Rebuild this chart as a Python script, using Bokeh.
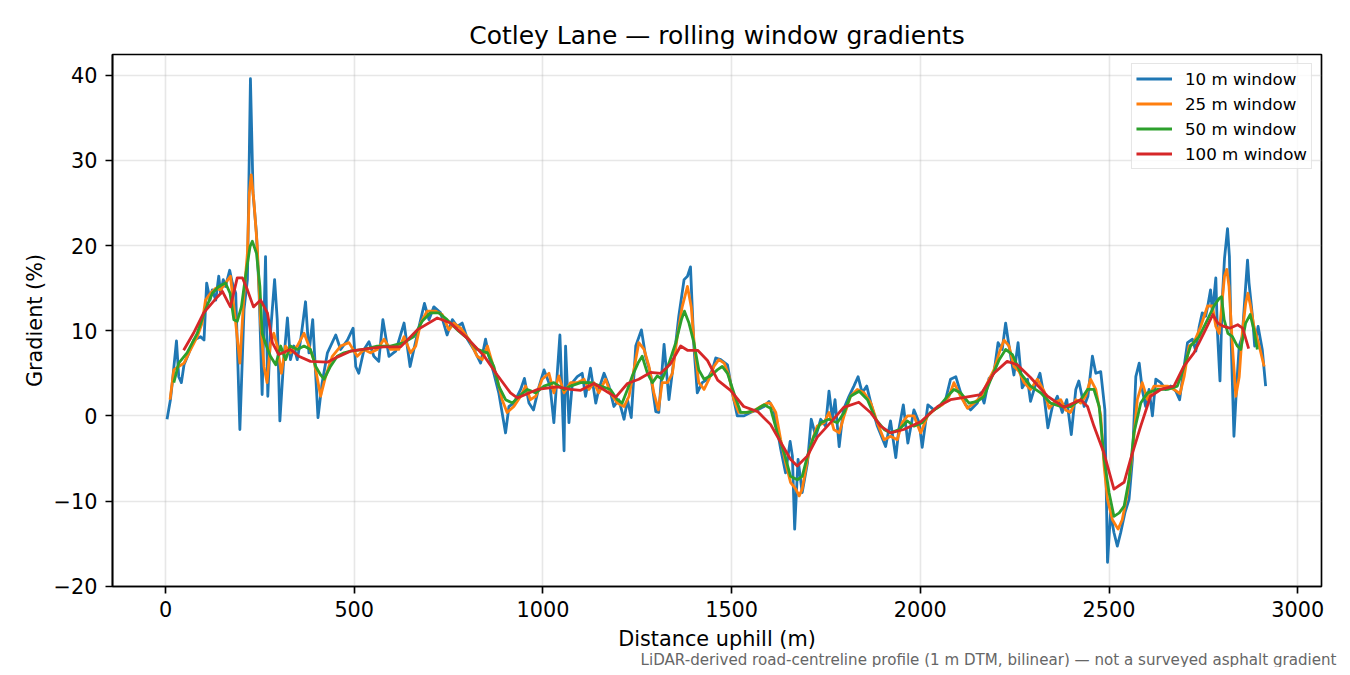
from bokeh.plotting import figure
from bokeh.models import Range1d, FixedTicker, CustomJSTickFormatter, Title
from bokeh.embed import file_html
from bokeh.resources import INLINE

# distance uphill (m) and gradient (%), one pair of arrays per window
dist_10 = [4, 13, 18, 29, 35, 42, 49, 62, 75, 93, 102, 109, 118, 124, 133, 141, 146, 153, 159,
           170, 177, 186, 197, 208, 217, 225, 232, 241, 248, 256, 265, 271, 278, 289, 296, 303,
           312, 323, 331, 340, 349, 358, 371, 380, 390, 404, 415, 429, 451, 464, 482, 497, 504,
           512, 526, 539, 552, 565, 576, 586, 592, 610, 632, 648, 658, 676, 686, 698, 711, 729,
           746, 760, 773, 786, 800, 817, 835, 848, 857, 870, 883, 901, 910, 923, 941, 951, 963,
           975, 990, 1003, 1019, 1029, 1045, 1056, 1060, 1069, 1078, 1091, 1104, 1113, 1126,
           1140, 1148, 1162, 1175, 1188, 1201, 1215, 1224, 1234, 1246, 1261, 1272, 1285, 1299,
           1307, 1321, 1334, 1347, 1360, 1374, 1383, 1391, 1400, 1409, 1422, 1436, 1449, 1458,
           1471, 1489, 1502, 1515, 1533, 1550, 1568, 1586, 1599, 1612, 1630, 1643, 1655, 1661,
           1667, 1676, 1687, 1701, 1711, 1723, 1736, 1749, 1758, 1767, 1774, 1785, 1796, 1811,
           1824, 1835, 1846, 1858, 1869, 1886, 1908, 1921, 1935, 1943, 1955, 1967, 1983, 1997,
           2005, 2020, 2036, 2054, 2067, 2080, 2094, 2107, 2120, 2133, 2151, 2160, 2169, 2182,
           2195, 2206, 2217, 2226, 2235, 2248, 2259, 2270, 2284, 2292, 2304, 2317, 2328, 2338,
           2350, 2363, 2376, 2388, 2400, 2412, 2420, 2434, 2444, 2456, 2465, 2478, 2489, 2496,
           2504, 2513, 2522, 2531, 2542, 2553, 2562, 2571, 2580, 2588, 2597, 2606, 2615, 2624,
           2637, 2650, 2663, 2677, 2687, 2699, 2708, 2721, 2730, 2739, 2747, 2756, 2762, 2769,
           2774, 2783, 2787, 2794, 2800, 2806, 2814, 2819, 2824, 2831, 2838, 2845, 2853, 2862,
           2867, 2871, 2880, 2886, 2895, 2906, 2915]
grad_10 = [-0.4, 1.9, 3.9, 8.8, 4.6, 3.9, 6.0, 7.4, 8.9, 9.3, 8.9, 15.6, 13.6, 14.8, 13.6, 16.4,
           14.4, 16.0, 15.2, 17.1, 15.6, 14.4, -1.6, 12.5, 16.0, 39.6, 26.1, 21.4, 14.4, 2.5, 18.7,
           2.3, 9.7, 16.0, 11.3, -0.6, 5.8, 11.5, 6.6, 8.2, 6.6, 8.9, 13.4, 7.4, 11.3, -0.2, 3.9,
           7.4, 9.5, 7.8, 8.9, 10.3, 5.8, 5.0, 7.8, 8.7, 7.0, 6.4, 11.3, 8.6, 7.0, 7.6, 10.9, 5.8,
           7.8, 11.3, 13.2, 11.3, 12.8, 12.1, 9.5, 11.3, 10.5, 10.9, 9.0, 7.8, 6.2, 9.0, 7.0, 5.0,
           2.7, -2.0, 1.1, 1.5, 3.1, 4.4, 1.5, 0.7, 3.5, 5.4, 3.5, -0.8, 9.5, -4.1, 8.2, -0.8, 3.9,
           4.6, 5.0, 2.3, 5.6, 1.5, 3.1, 5.0, 3.5, 1.1, 1.9, -0.4, 1.9, -0.2, 8.2, 10.1, 7.0, 5.0,
           0.5, 0.4, 8.4, 1.9, 6.6, 11.7, 16.0, 16.4, 17.5, 8.2, 2.7, 3.9, 4.3, 5.4, 6.8, 6.6, 6.0,
           2.7, 0.0, 0.0, 0.4, 0.7, 1.1, 1.7, 0.7, -3.9, -6.7, -3.0, -4.7, -13.3, -5.1, -9.0, -5.5,
           -0.4, -2.4, -0.4, -1.2, 2.9, -0.4, 1.9, -3.6, 0.7, 2.3, 3.5, 4.6, 2.7, 3.5, 1.5, -1.2,
           -3.6, -0.6, -4.9, -1.6, 1.3, -3.2, 0.7, -0.8, -3.7, 1.3, 0.7, 1.3, 1.9, 4.3, 4.6, 2.7,
           1.3, 0.7, 1.5, 2.7, 1.5, 4.4, 5.0, 8.6, 7.8, 10.9, 8.2, 4.8, 8.6, 3.3, 4.3, 1.7, 3.5,
           5.0, 2.3, -1.4, 1.1, 2.3, 0.4, 1.9, -2.2, 3.1, 4.1, 1.1, 2.3, 7.0, 5.0, 5.2, 0.7, -17.2,
           -11.4, -13.7, -15.3, -13.7, -11.4, -9.8, -5.1, 4.6, 6.2, 3.1, 1.1, 3.1, 0.0, 4.3, 3.9,
           3.1, 3.5, 2.9, 1.9, 5.8, 8.6, 9.0, 7.6, 10.5, 12.1, 11.7, 13.0, 14.8, 12.1, 16.2, 10.1,
           4.1, 13.6, 18.5, 22.0, 18.7, 8.2, -2.4, 3.5, 8.2, 9.3, 15.2, 18.3, 15.6, 11.7, 8.2,
           10.5, 7.8, 3.5]

dist_25 = [12, 22, 35, 49, 62, 84, 97, 106, 119, 133, 146, 159, 172, 186, 197, 208, 217, 222,
           227, 234, 243, 252, 261, 269, 278, 287, 296, 307, 318, 331, 349, 367, 380, 393, 411,
           424, 442, 464, 486, 508, 526, 543, 561, 579, 596, 618, 632, 649, 663, 676, 693, 716,
           733, 751, 764, 782, 804, 826, 839, 853, 866, 879, 892, 905, 923, 941, 954, 967, 981,
           998, 1016, 1029, 1042, 1056, 1073, 1091, 1109, 1122, 1135, 1148, 1166, 1179, 1197,
           1215, 1228, 1241, 1254, 1268, 1281, 1294, 1306, 1316, 1330, 1343, 1356, 1369, 1383,
           1393, 1402, 1413, 1427, 1440, 1453, 1466, 1480, 1493, 1506, 1519, 1537, 1555, 1577,
           1595, 1603, 1617, 1630, 1643, 1656, 1670, 1679, 1687, 1701, 1714, 1727, 1745, 1758,
           1771, 1785, 1798, 1815, 1833, 1851, 1869, 1886, 1904, 1921, 1939, 1952, 1966, 1983,
           2001, 2019, 2036, 2058, 2076, 2089, 2107, 2125, 2142, 2160, 2178, 2195, 2209, 2222,
           2235, 2248, 2262, 2275, 2292, 2310, 2328, 2341, 2354, 2372, 2385, 2398, 2412, 2425,
           2438, 2451, 2465, 2478, 2487, 2496, 2509, 2524, 2535, 2549, 2562, 2575, 2588, 2602,
           2619, 2637, 2655, 2672, 2688, 2699, 2712, 2725, 2743, 2761, 2774, 2783, 2792, 2800,
           2806, 2812, 2818, 2827, 2836, 2845, 2853, 2862, 2868, 2875, 2884, 2898, 2911]
grad_25 = [1.9, 5.4, 5.8, 6.2, 7.4, 9.3, 10.9, 13.6, 14.4, 15.0, 14.8, 15.6, 16.4, 10.9, 6.2,
           14.4, 19.1, 26.1, 28.3, 25.3, 19.9, 10.9, 5.8, 3.9, 8.5, 9.7, 8.2, 5.0, 8.2, 7.4, 8.2,
           9.7, 8.2, 6.6, 2.3, 4.6, 7.0, 8.2, 8.6, 7.0, 7.8, 7.4, 7.8, 9.0, 7.8, 7.8, 9.3, 7.4,
           8.2, 10.9, 12.3, 12.3, 11.9, 10.1, 10.9, 10.3, 9.0, 7.0, 6.6, 8.2, 6.2, 4.3, 1.9, 0.4,
           1.1, 2.3, 3.5, 1.9, 2.3, 4.3, 5.0, 2.7, 4.7, 2.7, 3.9, 3.9, 4.3, 3.1, 3.9, 2.7, 4.3,
           2.7, 1.5, 1.1, 2.3, 5.4, 8.6, 7.8, 5.8, 2.7, 0.7, 3.9, 3.9, 5.0, 9.3, 12.8, 15.2, 12.8,
           7.8, 3.9, 3.1, 4.3, 5.8, 6.6, 6.2, 4.7, 1.9, 0.4, 0.4, 0.5, 1.1, 1.5, 1.5, 0.4, -2.8,
           -5.5, -7.8, -8.6, -9.4, -8.6, -5.1, -2.8, -1.2, -0.8, 0.4, -1.6, -2.0, 0.0, 2.3, 3.1,
           2.7, 1.5, -0.8, -2.8, -2.4, -2.8, -0.8, 0.0, 0.0, -2.0, 0.0, 0.7, 1.3, 2.3, 3.9, 2.3,
           0.9, 1.5, 2.2, 3.9, 5.4, 7.4, 8.9, 8.2, 5.8, 5.2, 3.9, 3.1, 4.3, 2.9, 0.9, 1.5, 1.9,
           0.7, 0.4, 1.9, 1.5, 2.3, 4.3, 3.1, 0.0, -5.9, -9.8, -12.2, -13.3, -12.2, -9.0, -4.3,
           1.9, 3.9, 1.9, 3.5, 3.5, 3.5, 3.1, 2.6, 4.6, 8.2, 8.6, 10.5, 12.9, 12.9, 10.5, 9.7,
           13.6, 16.4, 17.2, 15.2, 8.2, 2.3, 4.6, 9.7, 13.2, 14.4, 12.9, 10.5, 8.2, 5.8]

dist_50 = [22, 35, 57, 84, 106, 124, 141, 159, 171, 181, 190, 201, 212, 224, 230, 241, 250, 256,
           265, 278, 292, 305, 318, 331, 349, 367, 384, 398, 411, 420, 437, 455, 473, 490, 526,
           561, 596, 632, 658, 680, 702, 724, 746, 773, 800, 826, 853, 870, 883, 901, 919, 936,
           959, 981, 1003, 1029, 1056, 1073, 1100, 1126, 1153, 1179, 1197, 1210, 1224, 1237,
           1252, 1263, 1277, 1290, 1303, 1316, 1334, 1352, 1367, 1375, 1387, 1400, 1413, 1427,
           1444, 1462, 1475, 1489, 1506, 1524, 1542, 1564, 1586, 1603, 1621, 1639, 1656, 1674,
           1687, 1701, 1718, 1736, 1758, 1780, 1798, 1815, 1838, 1860, 1882, 1904, 1921, 1944,
           1966, 1983, 2005, 2027, 2050, 2072, 2089, 2107, 2129, 2151, 2169, 2186, 2209, 2226,
           2244, 2266, 2292, 2319, 2345, 2372, 2398, 2425, 2443, 2460, 2474, 2487, 2500, 2513,
           2527, 2540, 2553, 2566, 2584, 2602, 2628, 2655, 2681, 2699, 2716, 2739, 2761, 2778,
           2792, 2798, 2805, 2815, 2827, 2840, 2849, 2862, 2874, 2884, 2893]
grad_50 = [3.9, 6.2, 7.4, 9.7, 12.5, 14.4, 15.2, 15.6, 14.4, 11.3, 11.1, 12.8, 16.4, 19.9, 20.5,
           19.1, 15.2, 9.7, 8.5, 7.0, 6.0, 8.2, 6.6, 8.2, 7.8, 8.2, 7.8, 5.8, 4.8, 4.3, 5.8, 7.0,
           7.4, 7.6, 7.8, 8.2, 8.2, 8.6, 9.3, 11.1, 12.1, 12.1, 11.3, 10.1, 9.1, 7.8, 7.4, 5.8,
           3.5, 1.9, 1.5, 2.3, 3.1, 2.7, 3.5, 3.9, 3.1, 3.5, 3.9, 3.9, 3.5, 3.1, 1.9, 1.5, 3.1,
           4.7, 6.2, 7.0, 5.0, 3.9, 4.7, 4.3, 6.2, 8.6, 11.3, 12.3, 10.9, 8.6, 5.4, 4.3, 4.7, 5.4,
           5.8, 5.0, 2.7, 0.4, 0.4, 0.7, 1.3, 0.9, -2.0, -4.3, -7.1, -7.5, -7.1, -4.7, -2.4, -0.8,
           -0.4, -0.8, 0.4, 2.3, 2.9, 1.9, -0.4, -1.6, -2.0, -1.6, -0.6, -1.2, -0.8, 0.4, 1.1, 2.3,
           3.1, 2.7, 1.5, 1.7, 2.3, 4.2, 6.6, 7.8, 7.2, 5.0, 3.5, 2.7, 1.5, 1.1, 1.1, 1.9, 3.1,
           3.1, 1.1, -5.1, -9.0, -11.8, -11.4, -10.6, -7.5, -2.0, 1.5, 2.7, 3.1, 3.1, 3.5, 5.8,
           8.2, 9.3, 11.3, 12.9, 13.8, 14.0, 11.3, 9.7, 9.3, 8.2, 7.8, 10.9, 11.9, 10.1, 7.8]

dist_100 = [48, 74, 101, 138, 151, 172, 190, 204, 217, 233, 252, 270, 283, 300, 331, 353, 384,
            429, 455, 490, 536, 578, 623, 667, 720, 755, 800, 843, 879, 914, 932, 985, 1038,
            1073, 1100, 1135, 1171, 1193, 1224, 1254, 1285, 1312, 1338, 1365, 1383, 1410, 1436,
            1463, 1497, 1532, 1569, 1603, 1630, 1656, 1674, 1701, 1727, 1762, 1797, 1837, 1868,
            1895, 1921, 1956, 2001, 2046, 2080, 2133, 2160, 2195, 2230, 2257, 2292, 2337, 2381,
            2425, 2443, 2460, 2486, 2513, 2540, 2557, 2584, 2610, 2637, 2672, 2698, 2725, 2751,
            2775, 2788, 2804, 2820, 2841, 2854, 2870]
grad_100 = [7.7, 9.7, 12.1, 14.0, 14.6, 12.8, 16.2, 16.2, 14.8, 12.8, 13.6, 12.1, 8.6, 7.2, 7.8,
            7.0, 6.4, 6.3, 6.9, 7.6, 7.9, 8.1, 8.1, 10.1, 11.5, 10.9, 9.1, 7.1, 4.8, 2.7, 2.1,
            3.1, 3.4, 3.1, 3.0, 3.8, 2.8, 2.2, 3.8, 4.3, 5.1, 5.0, 6.1, 8.2, 7.7, 7.7, 6.5, 4.2,
            3.0, 1.1, 0.5, -1.0, -3.1, -5.1, -5.9, -4.7, -2.5, -0.8, 1.0, 1.6, 0.4, -1.2, -2.0,
            -1.6, -0.7, 1.1, 1.9, 2.3, 2.5, 5.0, 6.4, 6.0, 4.5, 2.3, 1.0, 1.9, 1.1, -1.2, -4.3,
            -8.6, -7.8, -5.1, -1.2, 2.3, 3.1, 3.5, 5.8, 7.4, 9.7, 11.9, 10.9, 10.5, 10.3, 10.7,
            10.3, 7.9]

series = [
    ("10 m window", dist_10, grad_10, "#1f77b4"),
    ("25 m window", dist_25, grad_25, "#ff7f0e"),
    ("50 m window", dist_50, grad_50, "#2ca02c"),
    ("100 m window", dist_100, grad_100, "#d62728"),
]
x_ticks = [0, 500, 1000, 1500, 2000, 2500, 3000]
y_ticks = [-20, -10, 0, 10, 20, 30, 40]
footnote = "LiDAR-derived road-centreline profile (1 m DTM, bilinear) — not a surveyed asphalt gradient"

FONT = "DejaVu Sans"

p = figure(width=1342, height=667, output_backend="svg", toolbar_location=None,
           x_range=Range1d(-140.5, 3063), y_range=Range1d(-20.04, 42.44),
           min_border_left=112, min_border_right=21, min_border_top=54, min_border_bottom=80,
           title="Cotley Lane — rolling window gradients")

p.title.align = "center"
p.title.text_font = FONT
p.title.text_font_size = "25px"
p.title.text_font_style = "normal"
p.title.text_color = "black"
p.title.standoff = 9

for label, xs, ys, color in series:
    p.line(xs, ys, line_color=color, line_width=2.8, line_join="round", legend_label=label)

# axes
p.xaxis.ticker = FixedTicker(ticks=x_ticks)
p.yaxis.ticker = FixedTicker(ticks=y_ticks)
p.yaxis.formatter = CustomJSTickFormatter(
    code="return (tick < 0 ? '\u2212' : '') + Math.abs(tick).toFixed(0);")
p.xaxis.axis_label = "Distance uphill (m)"
p.yaxis.axis_label = "Gradient (%)"
for ax in (p.xaxis[0], p.yaxis[0]):
    ax.axis_label_text_font = FONT
    ax.axis_label_text_font_size = "20.8px"
    ax.axis_label_text_font_style = "normal"
    ax.axis_label_text_color = "black"
    ax.major_label_text_font = FONT
    ax.major_label_text_font_size = "20.8px"
    ax.major_label_text_color = "black"
    ax.major_tick_out = 7
    ax.major_tick_in = 0
    ax.minor_tick_out = 0
    ax.minor_tick_in = 0
    ax.major_tick_line_width = 1.67
    ax.major_tick_line_color = "black"
    ax.axis_line_width = 1.67
    ax.axis_line_color = "black"
p.xaxis.major_label_standoff = 7
p.xaxis.axis_label_standoff = 7
p.yaxis.major_label_standoff = 8
p.yaxis.axis_label_standoff = 4

p.grid.grid_line_color = "#b0b0b0"
p.grid.grid_line_alpha = 0.3
p.grid.grid_line_width = 1.6
p.outline_line_color = "black"
p.outline_line_width = 1.67
p.outline_line_alpha = 1.0

# legend
lg = p.legend[0]
lg.location = "top_right"
lg.margin = 9
lg.padding = 4
lg.spacing = 4
lg.glyph_width = 36
lg.glyph_height = 21
lg.label_height = 21
lg.label_standoff = 13
lg.label_text_font = FONT
lg.label_text_font_size = "16.7px"
lg.label_text_color = "black"
lg.border_line_color = "#cccccc"
lg.border_line_width = 1.3
lg.background_fill_alpha = 0.8

# footnote as a right-aligned title under the x axis
p.add_layout(Title(text=footnote, align="right", vertical_align="top", text_font=FONT,
                   text_font_size="15.1px", text_font_style="normal", text_color="#666666",
                   standoff=-6, offset=-15), "below")

open("out.html", "w").write(file_html(p, INLINE))
